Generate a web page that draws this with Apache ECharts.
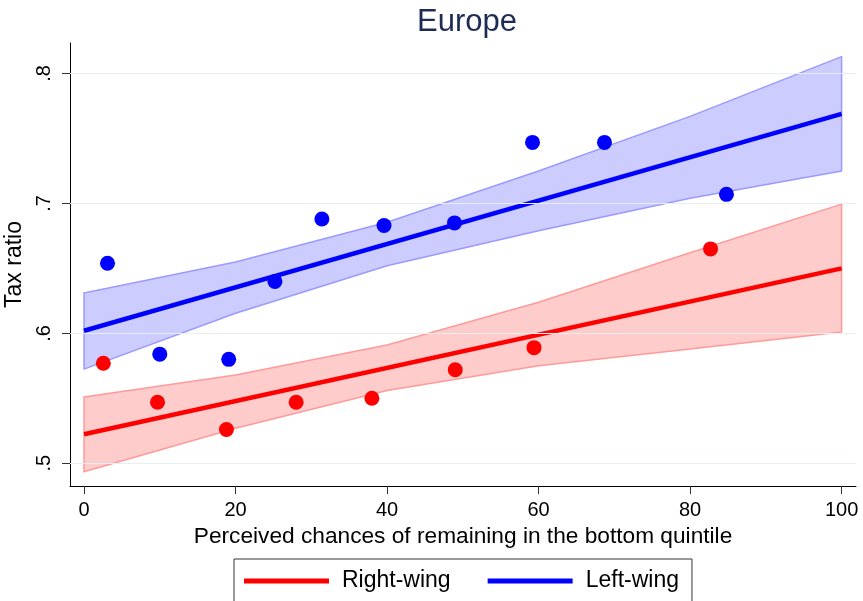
<!DOCTYPE html>
<html>
<head>
<meta charset="utf-8">
<script src="https://cdn.jsdelivr.net/npm/echarts@6/dist/echarts.min.js"></script>
<style>html,body{margin:0;padding:0;background:#fff}#c{width:863px;height:601px}</style>
</head>
<body>
<div id="c"></div>
<script>
// ---- data ----
var xTicks = [0, 20, 40, 60, 80, 100];
var yTicks = [0.5, 0.6, 0.7, 0.8];
var yTickLabels = ['.5', '.6', '.7', '.8'];

var rightX = [2.55, 9.7, 18.8, 28.0, 38.0, 49.0, 59.4, 82.7];
var rightY = [0.577, 0.547, 0.526, 0.547, 0.550, 0.572, 0.589, 0.665];
var leftX = [3.1, 10.0, 19.1, 25.2, 31.4, 39.6, 48.9, 59.2, 68.7, 84.8];
var leftY = [0.654, 0.584, 0.580, 0.640, 0.688, 0.683, 0.685, 0.747, 0.747, 0.707];

var fitX = [0, 100];
var rightFit = [0.5223, 0.650];
var leftFit = [0.602, 0.769];

var bandX = [0, 20, 40, 60, 80, 100];
var rightUpper = [0.551, 0.568, 0.591, 0.624, 0.662, 0.6995];
var rightLower = [0.4935, 0.527, 0.556, 0.575, 0.588, 0.601];
var leftUpper = [0.631, 0.655, 0.6855, 0.725, 0.767, 0.813];
var leftLower = [0.5725, 0.6155, 0.652, 0.679, 0.704, 0.725];

function zip(a, b) { return a.map(function (v, i) { return [v, b[i]]; }); }

function bandSeries(name, lower, upper, fill, stroke) {
  return {
    type: 'custom', name: name, silent: true, z: 1,
    data: bandX.map(function (x, i) { return [x, lower[i], upper[i]]; }),
    encode: { x: 0, y: [1, 2] },
    renderItem: function (params, api) {
      if (params.dataIndex !== 0) return;
      var pts = [];
      for (var i = 0; i < bandX.length; i++) pts.push(api.coord([bandX[i], upper[i]]));
      for (var j = bandX.length - 1; j >= 0; j--) pts.push(api.coord([bandX[j], lower[j]]));
      return { type: 'polygon', shape: { points: pts },
        style: { fill: fill, stroke: stroke, lineWidth: 1.5, lineJoin: 'round' } };
    }
  };
}

var font = 'Liberation Sans, Arial, Helvetica, sans-serif';
var chart = echarts.init(document.getElementById('c'), null, { renderer: 'canvas' });
chart.setOption({
  animation: false,
  backgroundColor: '#ffffff',
  textStyle: { fontFamily: font },
  title: {
    text: 'Europe', left: 412, top: 2,
    textStyle: { fontFamily: font, fontSize: 31, fontWeight: 'normal', color: '#1e2c55' }
  },
  legend: {
    data: ['Right-wing', 'Left-wing'],
    left: 234, top: 559,
    orient: 'horizontal',
    icon: 'rect', itemWidth: 85, itemHeight: 5, itemGap: 37,
    padding: [10, 13, 40, 10],
    borderColor: '#333', borderWidth: 1,
    textStyle: { fontFamily: font, fontSize: 23, color: '#000', lineHeight: 24, padding: [0, 0, 0, 8] }
  },
  grid: { left: 70, right: 7, top: 43, bottom: 115, outerBoundsMode: 'none' },
  xAxis: {
    type: 'value', min: -1.85, max: 101.9,
    name: 'Perceived chances of remaining in the bottom quintile',
    nameLocation: 'middle', nameGap: 35,
    nameTextStyle: { fontFamily: font, fontSize: 22.7, color: '#000' },
    axisLine: { show: true, onZero: false, lineStyle: { color: '#000', width: 1 } },
    axisTick: { show: true, length: 8, customValues: xTicks, lineStyle: { color: '#333' } },
    axisLabel: { customValues: xTicks, margin: 14, fontFamily: font, fontSize: 20, color: '#000' },
    splitLine: { show: false }
  },
  yAxis: {
    type: 'value', min: 0.4825, max: 0.8235,
    name: 'Tax ratio', nameLocation: 'middle', nameGap: 38,
    nameTextStyle: { fontFamily: font, fontSize: 23, color: '#000' },
    axisLine: { show: true, onZero: false, lineStyle: { color: '#000', width: 1 } },
    axisTick: { show: true, length: 8, customValues: yTicks, lineStyle: { color: '#333' } },
    axisLabel: {
      customValues: yTicks, rotate: 90, margin: 16, fontFamily: font, fontSize: 20, color: '#000',
      formatter: function (v) { var i = yTicks.indexOf(v); return i >= 0 ? yTickLabels[i] : ''; }
    },
    splitLine: { show: false }
  },
  series: [
    {
      type: 'line', name: 'grid', data: [], silent: true, z: 0,
      markLine: {
        silent: true, symbol: 'none', label: { show: false },
        lineStyle: { color: '#e8eff2', width: 1.2, type: 'solid' },
        data: yTicks.map(function (v) { return { yAxis: v }; })
      }
    },
    bandSeries('rband', rightLower, rightUpper, '#ffcccc', '#ff9a9a'),
    bandSeries('lband', leftLower, leftUpper, '#ccccff', '#9a9aff'),
    {
      type: 'line', name: 'Right-wing', data: zip(fitX, rightFit), showSymbol: false, z: 3,
      lineStyle: { color: '#ff0000', width: 4.5 }, itemStyle: { color: '#ff0000' }
    },
    {
      type: 'line', name: 'Left-wing', data: zip(fitX, leftFit), showSymbol: false, z: 3,
      lineStyle: { color: '#0000ff', width: 4.5 }, itemStyle: { color: '#0000ff' }
    },
    {
      type: 'scatter', name: 'rpts', data: zip(rightX, rightY), symbolSize: 15, z: 4,
      itemStyle: { color: '#ff0000', opacity: 1 }
    },
    {
      type: 'scatter', name: 'lpts', data: zip(leftX, leftY), symbolSize: 15, z: 4,
      itemStyle: { color: '#0000ff', opacity: 1 }
    }
  ]
});
</script>
</body>
</html>
